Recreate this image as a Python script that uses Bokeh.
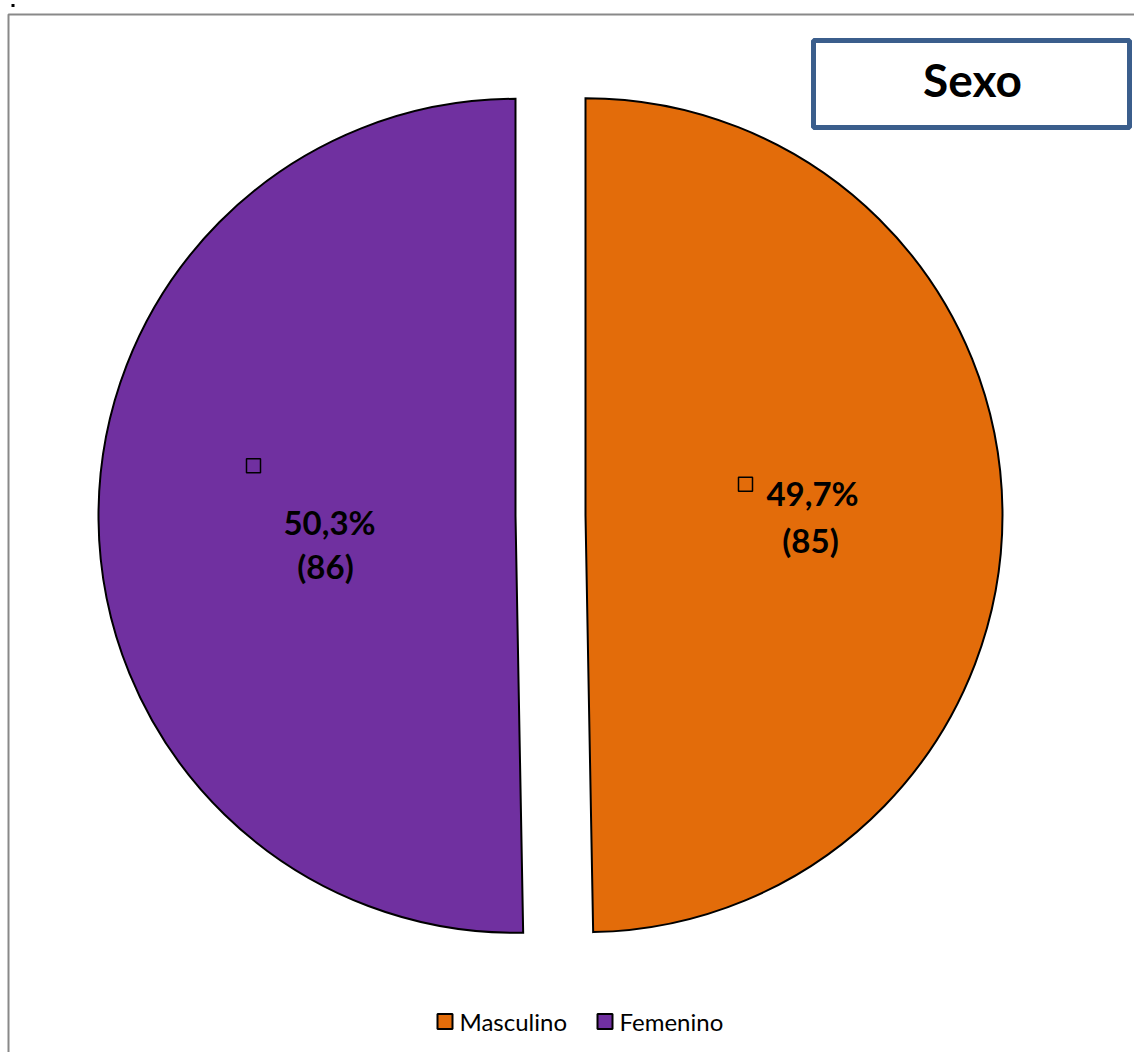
import math
from bokeh.plotting import figure
from bokeh.models import Range1d
from bokeh.core.properties import value
from bokeh.embed import file_html
from bokeh.resources import INLINE

# ---- data ----
categories = ["Masculino", "Femenino"]
counts = [85, 86]
colors = ["#E36C0A", "#7030A0"]
title_text = "Sexo"

# ---- layout constants (pixels, figure coordinates with origin bottom-left) ----
W, H = 1134, 1052
def X(sx):
    return sx
def Y(sy):
    return H - sy

cx, cy = X(550), Y(515)
R = 417
explode = 35
FONT = "Lato"
LBL = 33     # data label font size
TTL = 46     # title font size
LEG = 24     # legend font size
def base(sy, fs):
    # baseline correction for bokeh text placement
    return Y(sy - 0.3 * fs)

p = figure(width=W, height=H, output_backend="svg", toolbar_location=None,
           x_range=Range1d(0, W), y_range=Range1d(0, H), min_border=0)
p.axis.visible = False
p.grid.visible = False
p.outline_line_color = None
p.background_fill_color = "white"
p.border_fill_color = "white"

# chart area frame (top and left edges visible)
p.line(x=[X(8), X(8), X(1140)], y=[Y(1060), Y(14), Y(14)], line_color="#898989", line_width=2)
p.rect(x=[X(12.5)], y=[Y(5)], width=3, height=3, fill_color="black", line_color=None)

# ---- pie ----
total = sum(counts)
cum = 0.0
slice_centres = []
for i, v in enumerate(counts):
    a0 = 90 - cum / total * 360
    cum += v
    a1 = 90 - cum / total * 360
    mid = math.radians((a0 + a1) / 2)
    ox = cx + explode * math.cos(mid)
    oy = cy + explode * math.sin(mid)
    slice_centres.append((ox, oy))
    p.wedge(x=ox, y=oy, radius=R, start_angle=math.radians(a1), end_angle=math.radians(a0),
            direction="anticlock", fill_color=colors[i], line_color="black", line_width=2,
            line_join="miter")

# ---- data labels ----
# screen offsets of label elements from each slice centre (layout)
label_layout = [
    {"pct": (812 - 585, 503 - 515), "cnt": (810 - 585, 550 - 515), "key": (745 - 585, 484 - 515)},
    {"pct": (329 - 515, 531 - 515), "cnt": (325 - 515, 575 - 515), "key": (253 - 515, 465 - 515)},
]
for i, v in enumerate(counts):
    ox, oy = slice_centres[i]
    sx0, sy0 = ox, H - oy
    lay = label_layout[i]
    pct = f"{v / total * 100:.1f}%".replace(".", ",")
    cnt = f"({v})"
    p.text(x=[sx0 + lay["pct"][0]], y=[base(sy0 + lay["pct"][1], LBL)], text=[pct],
           text_font=value(FONT), text_font_style="bold", text_font_size=f"{LBL}px",
           text_align="center", text_baseline="alphabetic", text_color="black")
    p.text(x=[sx0 + lay["cnt"][0]], y=[base(sy0 + lay["cnt"][1], LBL)], text=[cnt],
           text_font=value(FONT), text_font_style="bold", text_font_size=f"{LBL}px",
           text_align="center", text_baseline="alphabetic", text_color="black")
    p.rect(x=[sx0 + lay["key"][0]], y=[Y(sy0 + lay["key"][1])], width=14, height=14,
           fill_color=None, line_color="black", line_width=1.5)

# ---- title box ----
p.rect(x=[X(971)], y=[Y(83.5)], width=316, height=87, fill_color="white",
       line_color="#3B5E8C", line_width=5)
p.text(x=[X(972)], y=[base(93, TTL)], text=[title_text], text_font=value(FONT),
       text_font_style="bold", text_font_size=f"{TTL}px", text_align="center",
       text_baseline="alphabetic", text_color="black")

# ---- legend ----
leg_sq_x = [444.5, 604.5]
leg_txt_x = [459, 619]
for i, name in enumerate(categories):
    p.rect(x=[X(leg_sq_x[i])], y=[Y(1021)], width=15, height=15, fill_color=colors[i],
           line_color="black", line_width=2)
    p.text(x=[X(leg_txt_x[i])], y=[base(1028, LEG)], text=[name], text_font=value(FONT),
           text_font_size=f"{LEG}px", text_align="left", text_baseline="alphabetic",
           text_color="black")

open("out.html", "w").write(file_html(p, INLINE))
